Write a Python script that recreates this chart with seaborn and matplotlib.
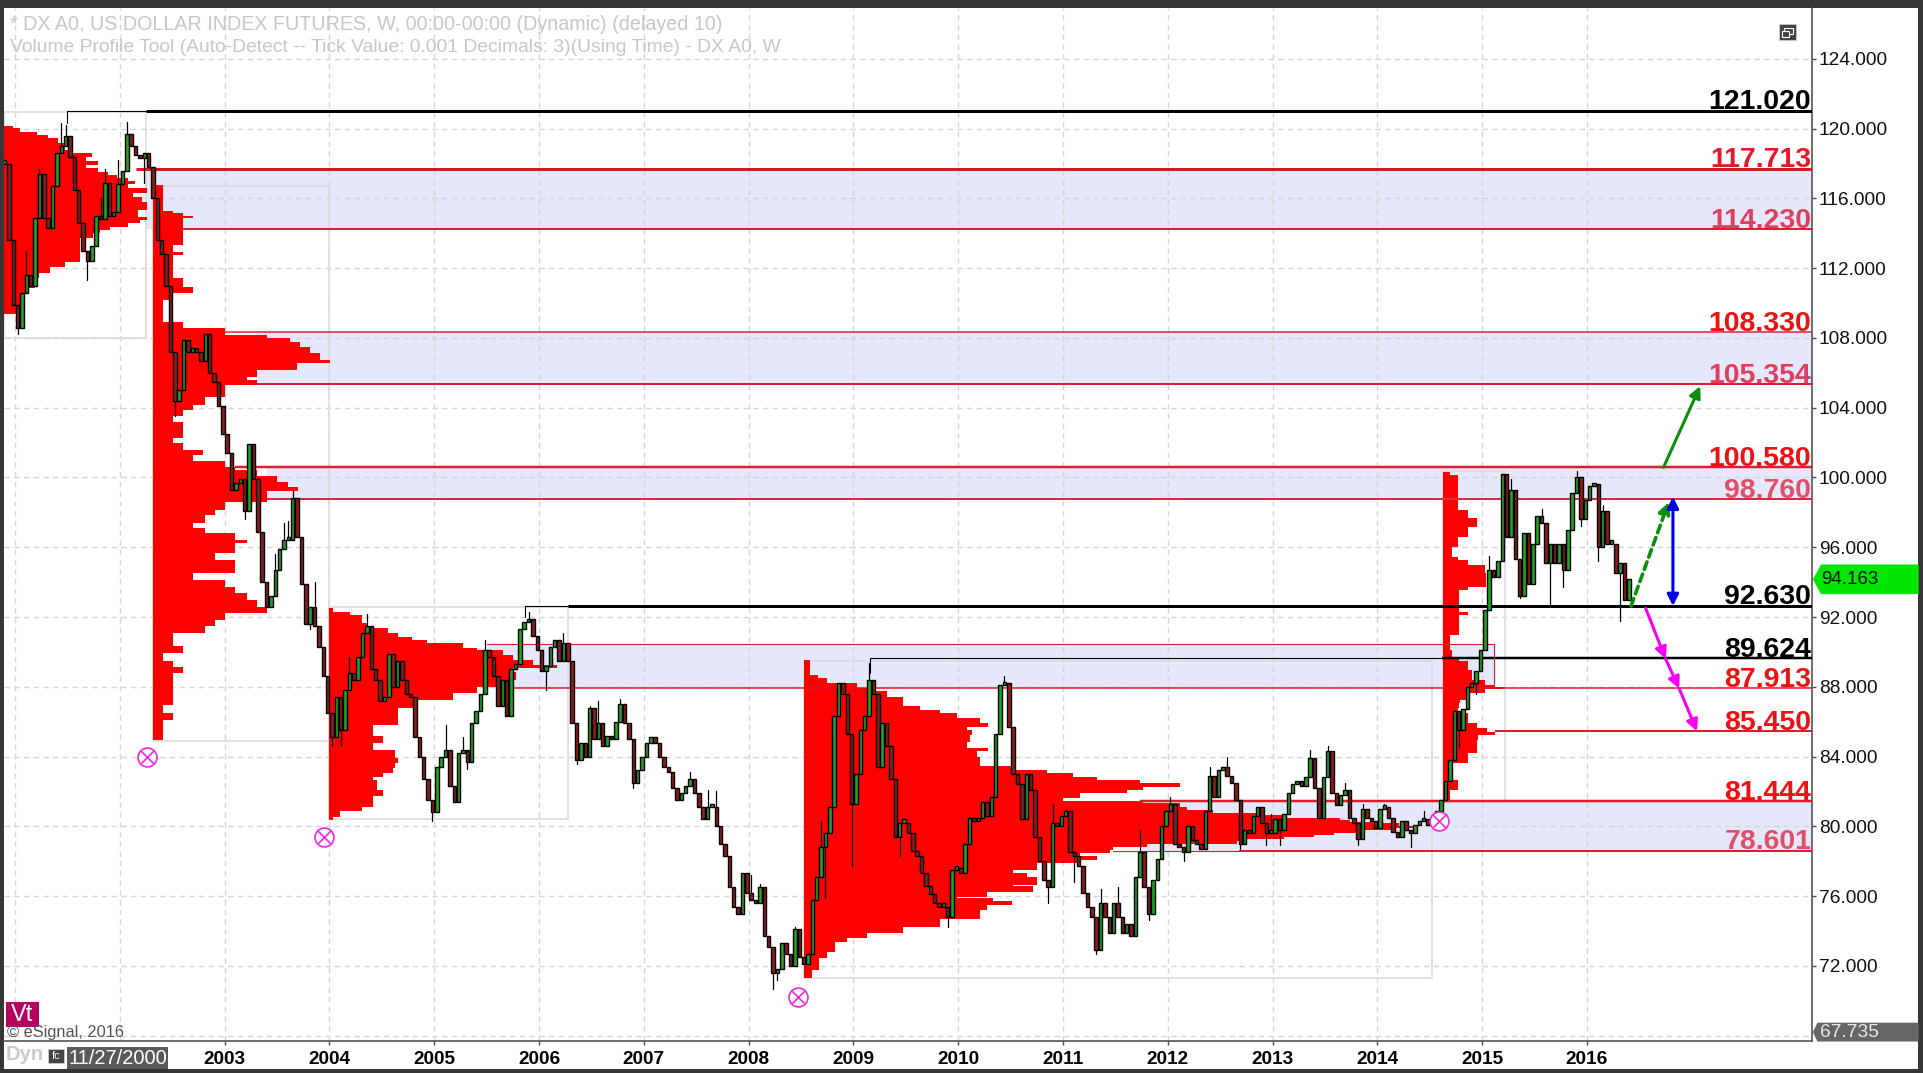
#Dollar index weekly chart with volume profiles
import numpy as np
import pandas as pd
import seaborn as sns
import matplotlib
matplotlib.use("Agg")
import matplotlib.pyplot as plt
from matplotlib.patches import Rectangle, Polygon

# candle closes, 24 per chart year, first candle at 2000.9
closes = [
    118.0, 113.6, 109.9, 108.6, 110.6, 111.6, 111.0, 114.9, 117.4, 114.9, 114.3, 116.7,
    118.6, 119.0, 119.6, 118.4, 116.5, 114.6, 113.0, 112.4, 113.3, 115.0, 114.8, 116.9,
    115.0, 115.2, 116.8, 117.6, 119.7, 119.0, 118.5, 118.3, 118.6, 117.8, 116.0, 113.6,
    112.8, 111.0, 107.2, 104.4, 105.0, 107.9, 107.2, 107.3, 107.2, 106.7, 108.2, 106.0,
    105.5, 104.1, 102.5, 101.4, 99.3, 99.7, 99.9, 98.1, 101.9, 99.9, 96.9, 94.0,
    92.6, 93.2, 94.7, 95.9, 96.4, 96.4, 98.8, 96.6, 93.9, 91.6, 92.6, 91.5,
    90.3, 88.6, 86.5, 85.1, 87.4, 85.5, 87.8, 88.8, 88.4, 89.7, 91.1, 91.5,
    89.0, 88.4, 87.2, 87.4, 89.9, 88.0, 89.5, 88.4, 87.6, 87.4, 85.1, 84.0,
    82.7, 81.5, 80.8, 83.4, 84.0, 84.4, 82.3, 81.4, 84.2, 84.4, 83.7, 85.9,
    86.6, 87.6, 90.1, 89.7, 88.6, 86.9, 88.4, 86.3, 89.0, 89.3, 91.3, 91.7,
    91.9, 90.9, 90.1, 88.9, 89.2, 90.3, 90.7, 89.5, 90.5, 89.5, 85.9, 83.8,
    84.8, 84.0, 86.8, 85.0, 85.9, 84.6, 85.2, 85.0, 86.0, 87.0, 85.9, 85.0,
    82.5, 83.2, 84.0, 84.8, 85.1, 84.8, 84.0, 83.4, 83.1, 82.2, 81.5, 81.9,
    82.3, 82.7, 81.9, 81.1, 80.4, 81.1, 81.1, 80.0, 79.0, 78.3, 76.5, 75.4,
    75.0, 77.3, 76.2, 75.8, 75.6, 76.5, 73.7, 73.1, 71.6, 71.8, 73.3, 72.7,
    72.0, 74.1, 72.5, 72.1, 72.7, 75.8, 77.1, 78.8, 79.6, 81.1, 86.3, 88.2,
    87.6, 85.3, 81.3, 83.0, 85.5, 86.3, 88.4, 87.6, 83.4, 85.9, 84.6, 82.7,
    79.4, 80.2, 80.2, 79.6, 78.6, 78.3, 77.3, 76.6, 76.1, 75.6, 75.4, 75.4,
    74.8, 77.5, 77.6, 77.3, 79.0, 80.5, 80.3, 80.5, 81.4, 80.6, 81.7, 85.3,
    88.1, 88.2, 85.7, 83.0, 82.4, 80.4, 83.0, 82.1, 79.4, 78.0, 76.9, 76.5,
    80.2, 80.0, 80.6, 80.9, 78.5, 78.3, 77.7, 76.2, 75.4, 74.8, 72.9, 75.6,
    74.8, 73.9, 75.6, 74.8, 73.9, 74.4, 73.7, 77.1, 78.5, 76.5, 75.0, 76.9,
    78.1, 80.0, 80.9, 81.3, 79.0, 78.8, 78.5, 80.0, 79.2, 79.0, 78.7, 80.9,
    82.9, 81.7, 83.2, 83.4, 82.9, 82.5, 81.5, 79.0, 79.8, 79.6, 80.6, 81.1,
    80.2, 79.6, 79.6, 80.4, 79.8, 80.7, 81.9, 82.4, 82.6, 82.3, 82.8, 83.9,
    82.2, 80.5, 82.8, 84.3, 81.9, 81.2, 81.8, 82.1, 80.5, 80.2, 79.3, 81.0,
    80.5, 80.3, 79.9, 81.0, 81.1, 80.5, 79.7, 79.4, 80.3, 79.8, 79.6, 80.1,
    80.3, 80.4, 80.1, 80.2, 80.9, 81.5, 82.6, 83.8, 86.6, 85.5, 86.7, 88.0,
    88.2, 88.9, 90.1, 92.4, 94.7, 94.3, 95.2, 100.2, 96.6, 99.3, 95.3, 93.2,
    96.8, 93.9, 96.2, 97.8, 97.4, 95.1, 96.2, 95.1, 96.2, 94.7, 97.0, 99.1,
    100.0, 97.6, 98.7, 99.5, 99.6, 96.0, 98.1, 96.2, 96.2, 94.5, 95.1, 93.0,
    94.163,
]
wick_candles = [3, 5, 8, 13, 14, 19, 22, 23, 26, 28, 32, 39, 55, 57, 62, 64, 65, 66, 70, 71,
                75, 77, 79, 83, 98, 101, 105, 106, 110, 120, 124, 128, 131, 134, 136, 141, 144,
                157, 161, 163, 171, 173, 176, 177, 181, 187, 188, 194, 198, 205, 216, 229, 239,
                240, 243, 245, 250, 251, 255, 260, 262, 267, 270, 276, 280, 283, 289, 290, 292,
                299, 303, 307, 310, 311, 316, 322, 325, 333, 337, 340, 345, 347, 352, 354, 357,
                360, 361, 365, 366, 370]
wick_tips = [108.2, 113.0, 117.7, 120.3, 120.2, 111.3, 116.0, 117.7, 118.2, 120.4, 116.9, 103.5,
             97.6, 101.7, 95.6, 97.4, 97.5, 99.3, 91.3, 94.0, 84.6, 84.6, 89.7, 92.2, 80.3, 85.8,
             85.1, 83.3, 90.7, 92.3, 87.8, 91.1, 83.6, 86.9, 87.2, 87.3, 82.2, 83.1, 82.1, 82.0,
             77.2, 76.7, 70.7, 71.2, 74.2, 80.3, 75.9, 77.7, 89.35, 78.3, 74.2, 88.6, 75.6, 81.3,
             81.0, 76.8, 72.7, 76.4, 76.5, 79.8, 74.6, 81.7, 78.0, 83.4, 84.0, 78.7, 78.9, 80.7,
             78.9, 84.4, 84.6, 82.5, 78.9, 81.3, 81.3, 78.8, 80.9, 84.5, 87.6, 95.5, 99.9, 93.1,
             98.2, 92.7, 93.7, 100.4, 97.2, 95.2, 98.4, 91.8]

# volume profiles: price rows (top to bottom), row volume, where it starts
p1_prices = [120.15, 120.02, 119.83, 119.64, 119.45, 119.16, 118.78, 118.59, 118.36, 118.17, 117.92,
             117.73, 117.54, 117.35, 117.15, 117.0, 116.81, 116.58, 116.33, 116.1, 115.82, 115.53,
             115.34, 114.96, 114.77, 114.57, 114.38, 114.19, 114.0, 113.71, 112.66, 112.38, 112.09,
             111.71, 111.42, 111.13, 110.85, 110.56, 110.18, 109.8, 109.37]
p1_vols = [9, 16, 33, 44, 54, 61, 69, 88, 82, 94, 82, 94, 104, 113, 124, 131, 124, 143, 129, 138, 143,
           143, 134, 143, 136, 124, 106, 96, 89, 76, 76, 61, 46, 35, 33, 31, 24, 19, 19, 16, 9]
p2_prices = [116.77, 115.34, 115.3, 115.15, 115.0, 114.86, 113.52, 113.33, 112.95, 112.76, 112.18,
             111.9, 111.42, 110.94, 110.56, 110.18, 109.22, 108.94, 108.55, 108.17, 107.98, 107.79,
             107.5, 107.12, 106.74, 106.55, 106.17, 105.78, 105.6, 105.31, 104.93, 104.64, 104.17,
             103.88, 103.5, 103.21, 102.92, 102.54, 102.26, 101.97, 101.59, 101.3, 100.92, 100.63,
             100.44, 100.06, 99.77, 99.48, 99.2, 98.91, 98.62, 98.15, 97.86, 97.38, 97.09, 96.81,
             96.43, 96.23, 95.66, 95.28, 94.9, 94.51, 94.13, 93.75, 93.37, 92.99, 92.6, 92.22, 91.84,
             91.46, 91.07, 90.69, 90.31, 89.93, 89.45, 89.16, 88.78, 88.4, 87.44, 86.96, 86.49, 86.1,
             84.96]
p2_vols = [10, 10, 20, 30, 40, 30, 30, 20, 30, 20, 20, 20, 30, 40, 20, 10, 10, 30, 72, 114, 137, 147, 157,
           167, 177, 144, 104, 94, 104, 72, 72, 52, 40, 30, 20, 30, 30, 30, 20, 30, 50, 40, 72, 82, 104,
           124, 135, 145, 114, 114, 72, 62, 52, 40, 52, 82, 94, 82, 62, 82, 82, 40, 72, 82, 94, 104, 114,
           72, 62, 52, 20, 20, 30, 10, 20, 30, 20, 20, 20, 10, 20, 10, 10]
p3_prices = [92.5, 92.31, 92.28, 92.12, 91.65, 91.36, 91.07, 90.88, 90.69, 90.5, 90.21, 90.12, 89.83, 89.54,
             89.26, 89.07, 88.87, 88.4, 88.01, 87.63, 87.25, 87.02, 86.77, 86.2, 85.82, 85.53, 85.15,
             84.76, 84.38, 84.19, 83.9, 83.62, 83.33, 83.04, 82.85, 82.66, 82.09, 81.71, 81.52, 81.13,
             80.85, 80.56, 80.37]
p3_vols = [4, 4, 21, 33, 39, 59, 69, 83, 98, 134, 148, 174, 184, 204, 228, 184, 187, 168, 148, 124, 84, 84,
           69, 69, 44, 44, 54, 44, 66, 66, 69, 66, 64, 54, 44, 48, 54, 44, 44, 33, 11, 4, 4]
p4_prices = [89.54, 88.68, 88.49, 88.2, 87.92, 87.73, 87.44, 87.06, 86.87, 86.68, 86.49, 86.2, 85.91, 85.68,
             85.53, 85.24, 84.86, 84.48, 84.29, 84.0, 83.62, 83.43, 83.24, 83.05, 82.85, 82.66, 82.47,
             82.28, 82.09, 81.9, 81.61, 81.46, 81.32, 81.13, 80.94, 80.75, 80.62, 80.48, 80.37, 80.27,
             80.18, 79.99, 79.89, 79.8, 79.64, 79.51, 79.37, 79.26, 79.13, 78.99, 78.84, 78.65, 78.46,
             78.27, 78.08, 77.88, 77.69, 77.5, 77.31, 77.12, 76.93, 76.64, 76.55, 76.26, 75.97, 75.88,
             75.69, 75.5, 75.21, 74.92, 74.67, 74.44, 74.21, 73.87, 73.58, 73.39, 73.0, 72.82, 72.44,
             72.05, 71.77, 71.29]
p4_vols = [6, 14, 23, 53, 63, 83, 99, 99, 116, 136, 153, 176, 184, 163, 168, 166, 163, 184, 173, 176, 176,
           209, 243, 269, 293, 336, 376, 339, 323, 276, 259, 339, 376, 383, 409, 459, 480, 536, 546, 570,
           595, 609, 590, 560, 530, 510, 480, 436, 433, 343, 309, 306, 276, 293, 276, 233, 233, 209, 223,
           233, 233, 209, 229, 183, 153, 189, 208, 183, 176, 176, 136, 136, 99, 63, 43, 31, 31, 23, 15,
           15, 8, 8]
p5_prices = [100.34, 100.15, 98.34, 98.14, 97.67, 97.19, 96.61, 96.04, 95.47, 95.28, 94.99, 94.51, 93.94,
             93.75, 93.56, 92.5, 92.31, 92.12, 91.45, 91.17, 90.98, 90.12, 89.73, 89.45, 88.97, 88.4,
             88.11, 88.01, 87.86, 87.63, 87.25, 87.06, 86.77, 86.48, 85.91, 85.62, 85.43, 85.24, 84.95,
             84.48, 84.19, 83.81, 83.62, 82.66, 82.37, 82.28, 82.09, 81.42]
p5_vols = [7, 15, 15, 25, 34, 25, 15, 9, 15, 25, 42, 43, 43, 25, 16, 16, 25, 16, 16, 16, 7, 9, 16, 25, 29, 42,
           52, 60, 42, 25, 17, 16, 15, 25, 34, 44, 52, 35, 34, 34, 25, 25, 7, 15, 15, 15, 7, 7]
profile_starts = [2000.895, 2002.32, 2004.0, 2008.53, 2014.63]

# profile outline boxes
box_starts = [2000.895, 2002.32, 2004.0, 2008.53, 2014.63]
box_ends = [2002.25, 2004.0, 2006.28, 2014.52, 2015.22]
box_tops = [120.96, 116.7, 92.6, 89.5, 100.4]
box_bottoms = [108.0, 84.9, 80.4, 71.3, 81.4]

# value area bands
band_highs = [117.713, 108.33, 100.58, 90.44, 81.444]
band_lows = [114.23, 105.354, 98.76, 87.913, 78.601]
band_starts = [2002.25, 2003.3, 2003.4, 2005.5, 2011.73]
band_ends = [2018.147, 2018.147, 2018.147, 2015.11, 2018.147]

# price levels
level_prices = [121.02, 117.713, 114.23, 108.33, 105.354, 100.58, 98.76, 92.63, 89.624, 87.913, 85.45, 81.444, 78.601]
level_labels = ["121.020", "117.713", "114.230", "108.330", "105.354", "100.580", "98.760",
                "92.630", "89.624", "87.913", "85.450", "81.444", "78.601"]
level_text_colors = ["black", "#e6172d", "#df3f5c", "#ee1111", "#df3f5c", "#ee1111", "#df5068",
                     "black", "black", "#ee1111", "#ee1111", "#ee1111", "#df5068"]
level_line_colors = ["black", "#e01525", "#dc1f35", "#dc1f35", "#dc1f35", "#dc1f35", "#dc2a3e",
                     "black", "black", "#e01525", "#d9202a", "#d9202a", "#d9202a"]
level_starts = [2002.25, 2002.15, 2002.6, 2003.0, 2003.3, 2003.1, 2003.4, 2006.28, 2014.62, 2005.7, 2015.12, 2011.73, 2012.68]
level_widths = [3, 3, 2, 1.5, 2, 2.5, 2, 3, 2.5, 1.5, 2, 2.5, 2]
thin_prices = [121.02, 92.63, 89.624, 78.601, 90.44]
thin_starts = [2001.5, 2005.87, 2009.16, 2011.48, 2005.5]
thin_ends = [2002.25, 2006.28, 2014.62, 2012.68, 2015.11]
thin_colors = ["black", "black", "black", "#d9202a", "#d9202a"]

# reference markers on the price scale
circle_years = [2002.26, 2003.95, 2008.47, 2014.59]
circle_prices = [83.95, 79.38, 70.24, 80.3]

green_up = [(2016.73, 100.58), (2017.08, 105.24)]
green_dash = [(2016.42, 92.63), (2016.78, 98.6)]
blue_span = [(2016.82, 92.63), (2016.82, 98.9)]
magenta_path = [(2016.56, 92.5), (2016.75, 89.6), (2016.88, 87.9), (2017.05, 85.45)]

y_ticks = [72, 76, 80, 84, 88, 92, 96, 100, 104, 108, 112, 116, 120, 124]
y_grid = [68] + y_ticks
x_grid = list(range(2001, 2017))
x_ticks = list(range(2003, 2017))
last_price = 94.163
scale_low = 67.735
scale_low_tag_at = 68.2

title_1 = "* DX A0, US DOLLAR INDEX FUTURES, W, 00:00-00:00 (Dynamic) (delayed 10)"
title_2 = "Volume Profile Tool (Auto-Detect -- Tick Value: 0.001 Decimals: 3)(Using Time) - DX A0, W"

W, H = 1923, 1073
YEARS_PER_VOL = 1 / 104.8
CANDLE_STEP = 1 / 24
FIRST_CANDLE = 2000.9

sns.set_theme(style="white")
plt.rcParams['font.family'] = ['Liberation Sans', 'DejaVu Sans']

fig = plt.figure(figsize=(W / 100, H / 100), dpi=100, facecolor="#363636")


def px_box(x0, y0, x1, y1, **kw):
    # rectangle in image pixels, on the figure
    r = Rectangle((x0 / W, 1 - y1 / H), (x1 - x0) / W, (y1 - y0) / H, transform=fig.transFigure, **kw)
    fig.add_artist(r)
    return r


def px_text(x, y, s, **kw):
    fig.text(x / W, 1 - y / H, s, **kw)


px_box(4, 8, 1918, 1069, facecolor="white", edgecolor="none", zorder=-5)

ax = fig.add_axes([4 / W, 1 - 1041 / H, 1808 / W, 1033 / H])
ax.patch.set_alpha(0)
ax.set_xlim(2000.895, 2018.147)
ax.set_ylim(67.69, 126.92)

# grid
for yv in y_grid:
    ax.plot([2000.895, 2018.147], [yv, yv], color="#d6d6d6", lw=1, ls=(0, (4, 3)), zorder=2)
for xv in x_grid:
    ax.axvline(xv, color="#d6d6d6", lw=1, ls=(0, (4, 3)), zorder=2)

# bands
for hi, lo, s, e in zip(band_highs, band_lows, band_starts, band_ends):
    ax.fill_between([s, e], lo, hi, color="#e5e7fb", lw=0, zorder=1)

# outline boxes
for s, e, t, b in zip(box_starts, box_ends, box_tops, box_bottoms):
    ax.plot([s, s, e, e, s], [t, b, b, t, t], color="#dcdcdc", lw=1.2, zorder=3)

# profiles
profiles = [(p1_prices, p1_vols), (p2_prices, p2_vols), (p3_prices, p3_vols), (p4_prices, p4_vols), (p5_prices, p5_vols)]
for (pr, vo), s in zip(profiles, profile_starts):
    ax.fill_betweenx(pr, s, s + np.array(vo) * YEARS_PER_VOL, step="post", color="#ff0000", lw=0, zorder=4)

# level lines
for p, s, w, c in zip(level_prices, level_starts, level_widths, level_line_colors):
    sns.lineplot(x=[s, 2018.147], y=[p, p], color=c, lw=w * 0.72, ax=ax, zorder=5, solid_capstyle="butt")
for p, s, e, c in zip(thin_prices, thin_starts, thin_ends, thin_colors):
    sns.lineplot(x=[s, e], y=[p, p], color=c, lw=0.8, ax=ax, zorder=5)
ax.plot([2001.5, 2001.5], [121.02, 120.3], color="black", lw=0.8, zorder=5)
ax.plot([2005.87, 2005.87], [92.63, 92.0], color="black", lw=0.8, zorder=5)
ax.plot([2009.16, 2009.16], [89.624, 88.8], color="black", lw=0.8, zorder=5)
ax.plot([2015.11, 2015.11], [90.44, 87.913], color="#d9202a", lw=0.8, zorder=5)

# candles
candles = pd.DataFrame({"close": closes})
candles["year"] = FIRST_CANDLE + candles.index * CANDLE_STEP
candles["open"] = candles["close"].shift(1).fillna(candles["close"])
wicks = pd.DataFrame({"candle": wick_candles, "tip": wick_tips})
wicks["year"] = FIRST_CANDLE + wicks["candle"] * CANDLE_STEP
wicks["close"] = candles["close"].values[wicks["candle"]]
long_wicks = pd.concat([wicks[["candle", "year", "close"]].rename(columns={"close": "price"}),
                        wicks[["candle", "year", "tip"]].rename(columns={"tip": "price"})])
sns.lineplot(data=long_wicks, x="year", y="price", units="candle", estimator=None, color="black", lw=0.9, ax=ax, zorder=6)
up = candles["close"] >= candles["open"]
ax.bar(candles["year"], (candles["close"] - candles["open"]).abs().clip(lower=0.2),
       bottom=candles[["close", "open"]].min(axis=1), width=0.033,
       color=np.where(up, "#23a223", "#8e1c1c"), edgecolor="black", linewidth=1.0, zorder=7)

# circle markers
sns.scatterplot(x=circle_years, y=circle_prices, marker="o", s=185, facecolor="white", edgecolor="#e82ae0", linewidth=1.2, ax=ax, zorder=8)
sns.scatterplot(x=circle_years, y=circle_prices, marker="x", s=80, color="#e82ae0", linewidth=1.2, ax=ax, zorder=9)

# arrows
def arrow(a, b, color, style="-|>", ls="-", lw=2.2):
    ax.annotate("", xy=b, xytext=a, zorder=10,
                arrowprops=dict(arrowstyle=style, color=color, lw=lw, ls=ls, shrinkA=0, shrinkB=0, mutation_scale=17))


arrow(green_up[0], green_up[1], "#0b8f0b")
arrow(green_dash[0], green_dash[1], "#0b8f0b", ls=(0, (2.2, 1.4)), lw=2.6)
arrow(blue_span[0], blue_span[1], "#0000e6", style="<|-|>")
for a, b in zip(magenta_path[:-1], magenta_path[1:]):
    arrow(a, b, "#f500f5")

# level labels sit just above their lines
for p, lab, c in zip(level_prices, level_labels, level_text_colors):
    ax.annotate(lab, xy=(1, p), xycoords=ax.get_yaxis_transform(), xytext=(-0.5, -3.2), textcoords="offset points",
                ha="right", va="bottom", fontsize=20.5, fontweight="bold", color=c, zorder=11)

# axes
sns.despine(ax=ax, left=True, top=True, right=False, bottom=False)
for side in ["right", "bottom"]:
    ax.spines[side].set_color("#555555")
    ax.spines[side].set_linewidth(1.2)
ax.yaxis.tick_right()
ax.set_yticks(y_ticks)
ax.set_yticklabels([f"{v:.3f}" for v in y_ticks], fontsize=13.8, color="#111111")
ax.tick_params(axis="y", length=3, width=1, color="#4a4a4a", pad=2, right=True, labelright=True)
ax.set_xticks(x_ticks)
ax.set_xticklabels([str(v) for v in x_ticks], fontsize=13.7, fontweight="bold", color="black")
ax.tick_params(axis="x", length=3, width=1, color="#4a4a4a", pad=4, bottom=True)
ax.set_xlabel("")
ax.set_ylabel("")

# last price tag
tr = ax.get_yaxis_transform()
tag = Polygon([(1.0005, last_price), (1.005, last_price + 0.85), (1.059, last_price + 0.85),
               (1.059, last_price - 0.85), (1.005, last_price - 0.85)], closed=True, transform=tr,
              facecolor="#00e600", edgecolor="none", clip_on=False, zorder=12)
ax.add_patch(tag)
ax.annotate(f"{last_price:.3f}", xy=(1.005, last_price), xycoords=tr, va="center", ha="left",
            fontsize=13.5, color="#111111", zorder=13)
low_tag = Polygon([(1.0005, scale_low_tag_at), (1.003, scale_low_tag_at + 0.54), (1.059, scale_low_tag_at + 0.54),
                   (1.059, scale_low_tag_at - 0.54), (1.003, scale_low_tag_at - 0.54)], closed=True, transform=tr,
                  facecolor="#666666", edgecolor="none", clip_on=False, zorder=12)
ax.add_patch(low_tag)
ax.annotate(f"{scale_low:.3f}", xy=(1.0045, scale_low_tag_at), xycoords=tr, va="center", ha="left",
            fontsize=13.8, color="#e8e8e8", zorder=13)

# chrome
px_text(10, 25, title_1, fontsize=14.2, color="#c6c6c6", va="center", ha="left")
px_text(10, 47, title_2, fontsize=13.9, color="#c6c6c6", va="center", ha="left")
px_box(6, 1002, 39, 1027, facecolor="#b8005f", edgecolor="none")
px_text(22, 1015, "Vt", fontsize=17, color="white", va="center", ha="center")
px_text(7, 1032, "© eSignal, 2016", fontsize=11.8, color="#555555", va="center", ha="left")
px_text(6, 1055, "Dyn", fontsize=14.5, fontweight="bold", color="#c9c9c9", va="center", ha="left")
px_box(48, 1049, 64, 1063, facecolor="#444444", edgecolor="#cccccc", lw=0.6)
px_text(56, 1056, "fc", fontsize=8, color="white", va="center", ha="center")
px_box(67, 1047, 168, 1069, facecolor="#5a5a5a", edgecolor="none")
px_text(117.5, 1058, "11/27/2000", fontsize=14.5, color="white", va="center", ha="center")
px_box(1779, 24, 1796, 40, facecolor="#444444", edgecolor="#cccccc", lw=0.6)
px_box(1784, 28, 1793, 34, facecolor="none", edgecolor="white", lw=0.8)
px_box(1782, 31, 1789, 37, facecolor="#444444", edgecolor="white", lw=0.8)

fig.savefig("out.png", dpi=100, facecolor=fig.get_facecolor())
